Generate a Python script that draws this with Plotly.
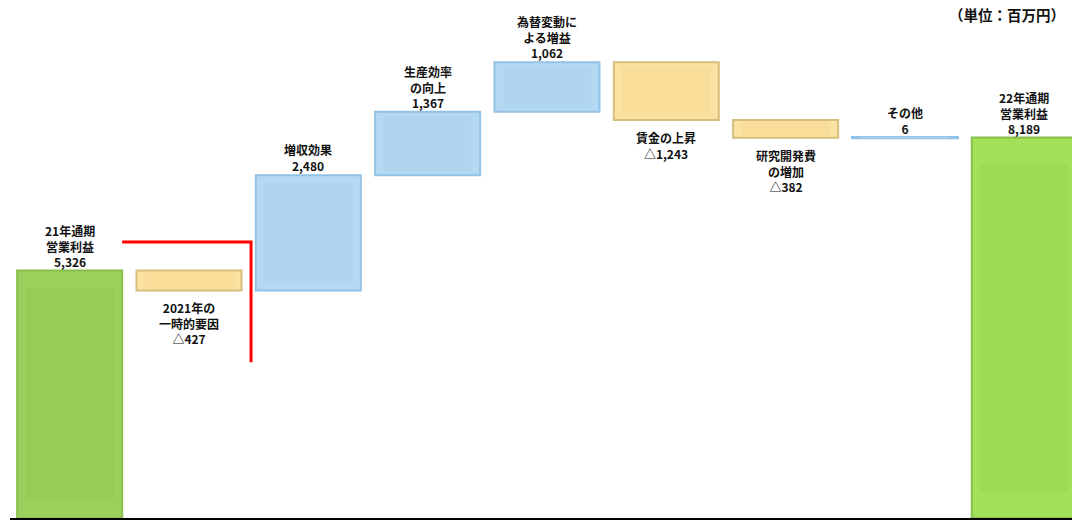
import numpy as np
import plotly.graph_objects as go

labels = ["21年通期<br>営業利益", "2021年の<br>一時的要因", "増収効果", "生産効率<br>の向上",
          "為替変動に<br>よる増益", "賃金の上昇", "研究開発費<br>の増加", "その他", "22年通期<br>営業利益"]
values = [5326, -427, 2480, 1367, 1062, -1243, -382, 6, 8189]
measures = ["total", "relative", "relative", "relative", "relative", "relative", "relative", "relative", "total"]
value_text = ["5,326", "△427", "2,480", "1,367", "1,062", "△1,243", "△382", "6", "8,189"]

x = np.arange(len(values))
bases, heights, kinds = [], [], []
cum = 0
for v, m in zip(values, measures):
    if m == "total":
        bases.append(0); heights.append(v); kinds.append("total"); cum = v
    elif v >= 0:
        bases.append(cum); heights.append(v); kinds.append("up"); cum += v
    else:
        bases.append(cum + v); heights.append(-v); kinds.append("down"); cum += v

fill = {"total": "#9CD05C", "up": "#B6D9F3", "down": "#FAE3A2"}
edge = {"total": "#88BE4A", "up": "#92C2E6", "down": "#D8BE7C"}
inner = {"total": "#97CC57", "up": "#B0D5F0", "down": "#F8DE99"}
colors = [fill[k] for k in kinds]
edges = [edge[k] for k in kinds]
inners = [inner[k] for k in kinds]
colors[-1] = "#A3E05A"
inners[-1] = "#9EDB55"
line_w = [3 if h < 50 else 2 for h in heights]

fig = go.Figure()
fig.add_trace(go.Bar(x=x, y=heights, base=bases, width=0.88,
                     marker=dict(color=colors, line=dict(color=edges, width=line_w)),
                     hoverinfo="skip", showlegend=False))
fig.add_trace(go.Bar(x=x, y=[h * 0.86 for h in heights],
                     base=[b + h * 0.07 for b, h in zip(bases, heights)], width=0.74,
                     marker=dict(color=inners, line=dict(width=0)),
                     hoverinfo="skip", showlegend=False))

font = dict(family="Noto Sans CJK JP, Noto Sans, sans-serif", size=12, color="#111")
for i, k in enumerate(kinds):
    txt = f"<b>{labels[i]}<br>{value_text[i]}</b>"
    if k == "down":
        fig.add_annotation(x=x[i], y=bases[i], text=txt, showarrow=False, yanchor="top",
                           yshift=-7, font=font, align="center")
    else:
        fig.add_annotation(x=x[i], y=bases[i] + heights[i], text=txt, showarrow=False,
                           yanchor="bottom", yshift=-1, font=font, align="center")

fig.add_annotation(xref="paper", yref="paper", x=0.995, y=1.0, xanchor="right", yanchor="top",
                   yshift=-2, text="<b>（単位：百万円）</b>", showarrow=False,
                   font=dict(family="Noto Sans CJK JP, sans-serif", size=14.5, color="#111"))

# red separator line
fig.add_shape(type="path", xref="x", yref="y",
              path="M 0.44 5940 L 1.52 5940 L 1.52 3350",
              line=dict(color="#FF0000", width=3))

fig.update_layout(
    width=1072, height=521, plot_bgcolor="white", paper_bgcolor="white",
    margin=dict(l=10, r=0, t=0, b=3), barmode="overlay",
    xaxis=dict(range=[-0.5, 8.40], showticklabels=False, showgrid=False, zeroline=False,
               showline=True, linecolor="black", linewidth=2, ticks=""),
    yaxis=dict(range=[0, 11150], visible=False, showgrid=False, zeroline=False),
)
fig.write_html("out.html", post_script="document.body.style.margin='0';",
               config={"displayModeBar": False})
